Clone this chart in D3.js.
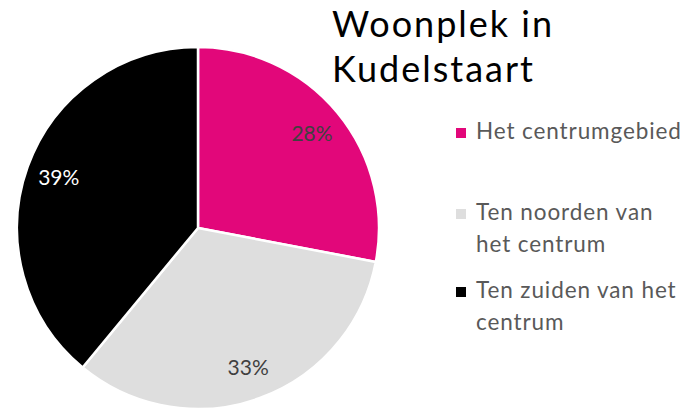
<!DOCTYPE html>
<html>
<head>
<meta charset="utf-8">
<script src="https://cdn.jsdelivr.net/npm/d3@7"></script>
<style>
  body { margin: 0; background: #fff; }
  svg { display: block; font-family: Lato, "Open Sans", sans-serif; }
</style>
</head>
<body>
<svg id="chart"></svg>
<script>
// Data
const categories = ["Het centrumgebied", "Ten noorden van het centrum", "Ten zuiden van het centrum"];
const values = [28, 33, 39];
const sliceColors = ["#E2077A", "#DEDEDE", "#000000"];
const labelColors = ["#404040", "#404040", "#ffffff"];
const titleLines = ["Woonplek in", "Kudelstaart"];

const width = 687, height = 408;
const cx = 198, cy = 228, radius = 181;

const svg = d3.select("#chart")
    .attr("width", width)
    .attr("height", height);

const color = d3.scaleOrdinal().domain(categories).range(sliceColors);

const pie = d3.pie().sort(null).value(d => d.value);
const arcs = pie(categories.map((c, i) => ({ name: c, value: values[i], idx: i })));

const arc = d3.arc().innerRadius(0).outerRadius(radius);
const labelArc = d3.arc().innerRadius(148).outerRadius(148);

const g = svg.append("g").attr("transform", `translate(${cx},${cy})`);

g.selectAll("path")
    .data(arcs)
    .join("path")
    .attr("d", arc)
    .attr("fill", d => color(d.data.name))
    .attr("stroke", "#fff")
    .attr("stroke-width", 2.5)
    .attr("stroke-linejoin", "round");

g.selectAll("text")
    .data(arcs)
    .join("text")
    .attr("transform", d => `translate(${labelArc.centroid(d)})`)
    .attr("dy", "0.35em")
    .attr("text-anchor", "middle")
    .attr("font-size", 21)
    .attr("fill", d => labelColors[d.data.idx])
    .text(d => d3.format(".0%")(d.data.value / 100));

// Title
svg.append("text")
    .attr("x", 332)
    .attr("y", 37)
    .attr("font-size", 36)
    .attr("letter-spacing", 2)
    .attr("fill", "#000")
    .selectAll("tspan")
    .data(titleLines)
    .join("tspan")
    .attr("x", 332)
    .attr("dy", (d, i) => i === 0 ? 0 : 45)
    .text(d => d);

// Legend
const legendX = 456, textX = 476, lineH = 32, maxW = 210;
const legendBaselines = [139, 220, 298];

const legend = svg.append("g");
categories.forEach((c, i) => {
    const y = legendBaselines[i];
    legend.append("rect")
        .attr("x", legendX)
        .attr("y", y - 11)
        .attr("width", 10)
        .attr("height", 10)
        .attr("fill", color(c));

    const t = legend.append("text")
        .attr("x", textX)
        .attr("y", y)
        .attr("font-size", 22.5)
        .attr("letter-spacing", 0.9)
        .attr("fill", "#595959");

    // simple word wrap
    const words = c.split(" ");
    let line = [];
    let tspan = t.append("tspan").attr("x", textX).attr("y", y);
    let lineNo = 0;
    words.forEach(w => {
        line.push(w);
        tspan.text(line.join(" "));
        if (tspan.node().getComputedTextLength() > maxW && line.length > 1) {
            line.pop();
            tspan.text(line.join(" "));
            line = [w];
            lineNo++;
            tspan = t.append("tspan").attr("x", textX).attr("y", y + lineNo * lineH).text(w);
        }
    });
});
</script>
</body>
</html>
